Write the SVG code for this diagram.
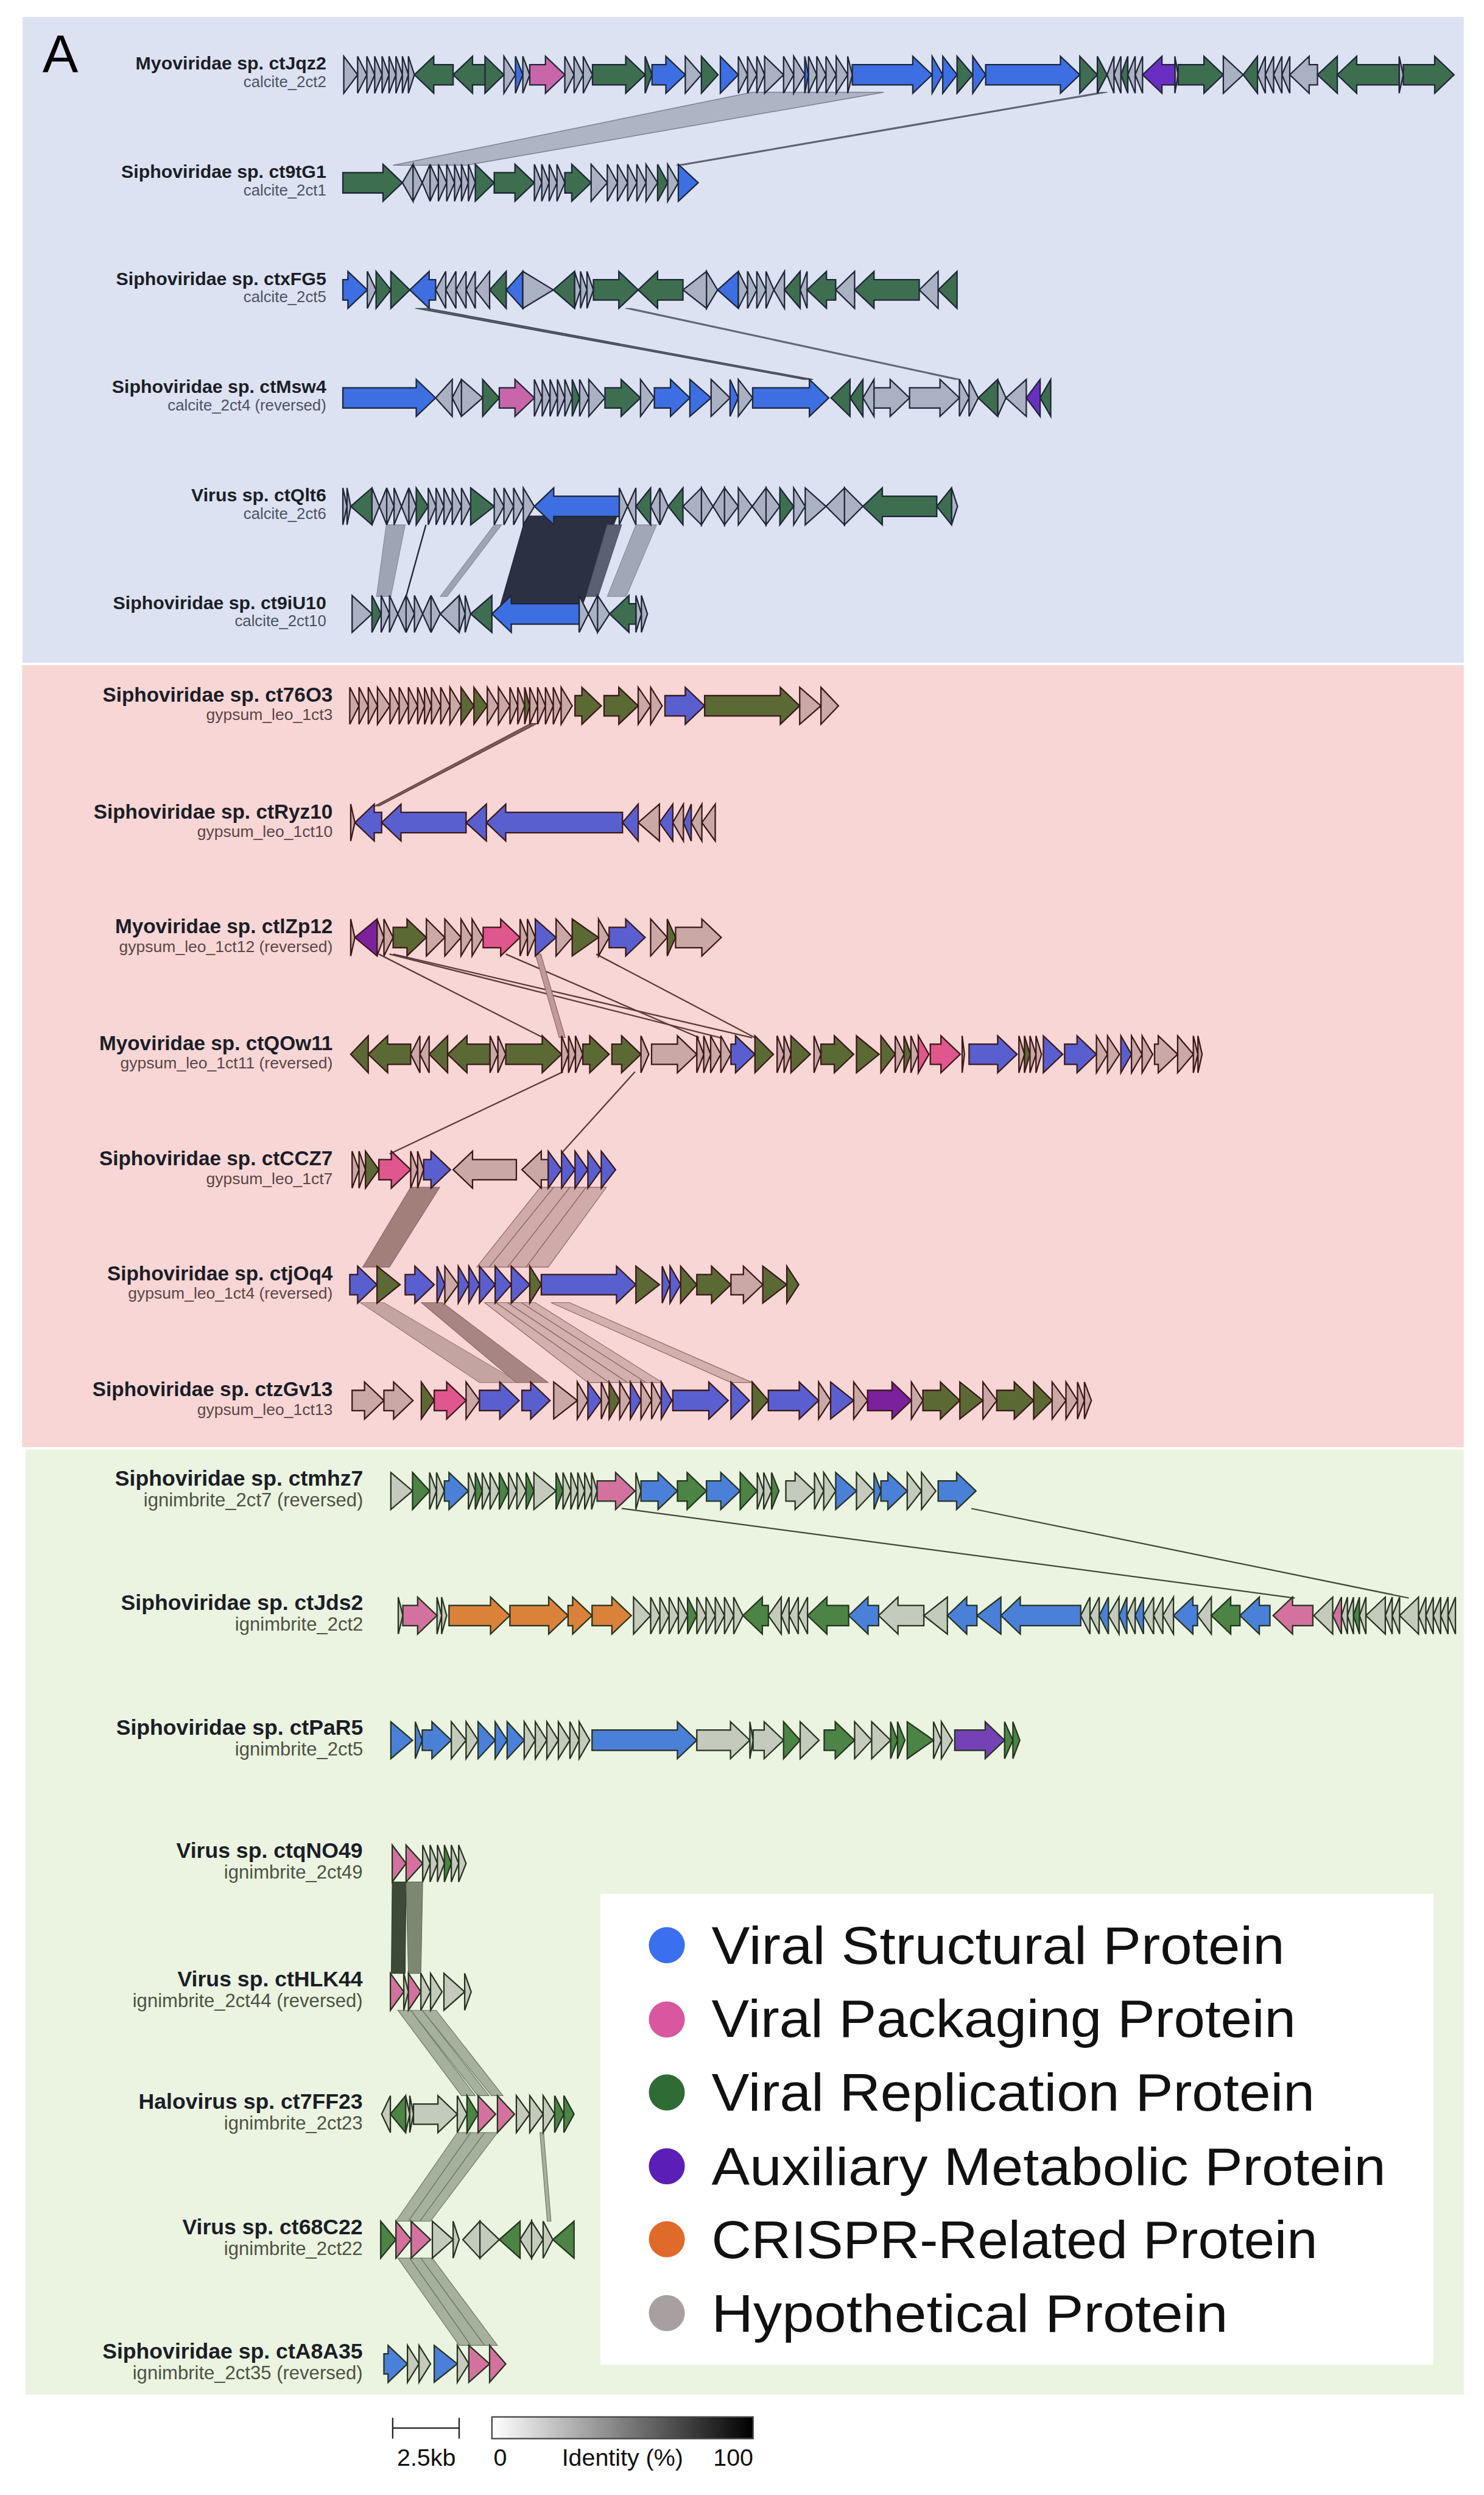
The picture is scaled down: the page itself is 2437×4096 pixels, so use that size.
<svg xmlns="http://www.w3.org/2000/svg" width="2437" height="4096" viewBox="0 0 2437 4096">
<defs>
<style>
.nm{font-family:"Liberation Sans",Arial,sans-serif;font-weight:bold;text-anchor:end;fill:#1b1e27}
.sb{font-family:"Liberation Sans",Arial,sans-serif;text-anchor:end}
.bn{font-size:40px}.bs{font-size:34px;fill:#4d5262}
.rn{font-size:44px}.rs{font-size:35px;fill:#5a4646}
.gn{font-size:47px}.gs{font-size:41px;fill:#4b5343}
path{stroke-width:3;stroke-linejoin:miter}
.bS{fill:#3d6fe2;stroke:#1f2638}.bP{fill:#c866a9;stroke:#1f2638}.bR{fill:#3e6e50;stroke:#1f2638}.bA{fill:#6b2ec2;stroke:#1f2638}.bH{fill:#aab1c2;stroke:#1f2638}
.rS{fill:#5a5fd0;stroke:#3b1818}.rP{fill:#df578d;stroke:#3b1818}.rR{fill:#5b6a35;stroke:#3b1818}.rA{fill:#7b219d;stroke:#3b1818}.rH{fill:#caa8a6;stroke:#3b1818}
.gS{fill:#4b80d9;stroke:#263320}.gP{fill:#d4729f;stroke:#263320}.gR{fill:#4b8444;stroke:#263320}.gA{fill:#7442b4;stroke:#263320}.gC{fill:#da823a;stroke:#263320}.gH{fill:#c4cbbd;stroke:#263320}
.lg{font-family:"Liberation Sans",Arial,sans-serif;font-size:114px;fill:#111}
.sc{font-family:"Liberation Sans",Arial,sans-serif;font-size:52px;fill:#111;text-anchor:middle}
</style>
<linearGradient id="idgrad" x1="0" y1="0" x2="1" y2="0">
<stop offset="0" stop-color="#ffffff"/>
<stop offset="1" stop-color="#000000"/>
</linearGradient>
</defs>
<rect x="0" y="0" width="2437" height="4096" fill="#ffffff"/>
<g transform="scale(0.7578)">
<g id="panels">
<rect x="49" y="37" width="3123" height="1399" fill="#dce2f1"/>
<rect x="48" y="1441" width="3124" height="1694" fill="#f8d6d5"/>
<rect x="55" y="3140" width="3117" height="2048" fill="#ebf4e1"/>
</g>
<text x="92" y="157" font-family="Liberation Sans,Arial,sans-serif" font-size="116" fill="#000">A</text>

<g id="connectors">
<polygon points="1630,200 1915,200 1010,358 852,358" fill="#a3a9b8" fill-opacity="0.8" stroke="#7b8192" stroke-width="2"/>
<polygon points="2385,200 2400,200 1480,358 1465,358" fill="#6b7080" stroke="#555a6a" stroke-width="1.5"/>
<polygon points="900,668 928,668 1762,822 1742,822" fill="#3f4454" fill-opacity="0.85" stroke="#3a3f4e" stroke-width="1.5"/>
<polygon points="1355,668 1368,668 2082,822 2070,822" fill="#6b7080" stroke="#5a5f6e" stroke-width="1.5"/>
<polygon points="837,1137 878,1137 847,1292 816,1292" fill="#9ea4b4" stroke="#868c9c" stroke-width="1.5"/>
<line x1="923" y1="1137" x2="880" y2="1292" stroke="#1f2433" stroke-width="3"/>
<polygon points="1071,1137 1087,1137 969,1292 954,1292" fill="#9ea4b4" stroke="#868c9c" stroke-width="1.5"/>
<polygon points="1140,1118 1337,1118 1262,1310 1085,1310" fill="#2b3142" stroke="#232838" stroke-width="2"/>
<polygon points="1316,1137 1347,1137 1296,1292 1270,1292" fill="#5b6172" stroke="#4b5162" stroke-width="1.5"/>
<polygon points="1378,1137 1423,1137 1357,1292 1316,1292" fill="#a1a7b6" stroke="#878d9c" stroke-width="1.5"/>

<polygon points="1150,1567 1165,1567 822,1746 812,1746" fill="#7a5a58" stroke="#5b3b3a" stroke-width="1.5"/>
<g stroke="#5b3b3a" stroke-width="3" fill="none">
<line x1="821" y1="2067" x2="1177" y2="2248"/>
<line x1="844" y1="2067" x2="1561" y2="2248"/>
<line x1="852" y1="2067" x2="1630" y2="2248"/>
<line x1="1096" y1="2067" x2="1515" y2="2248"/>
<line x1="1292" y1="2067" x2="1636" y2="2248"/>
<line x1="1220" y1="2322" x2="844" y2="2500"/>
<line x1="1376" y1="2322" x2="1217" y2="2498"/>
</g>
<polygon points="1160,2067 1172,2067 1225,2248 1212,2248" fill="#c09a98" stroke="#8a6563" stroke-width="1.5"/>
<polygon points="890,2572 953,2572 844,2745 786,2745" fill="#a37f7c" stroke="#8c6663" stroke-width="1.5"/>
<g fill="#b89290" fill-opacity="0.65" stroke="#8c6663" stroke-width="1.5">
<polygon points="1171,2572 1200,2572 1060,2745 1033,2745"/>
<polygon points="1200,2572 1235,2572 1100,2745 1060,2745"/>
<polygon points="1235,2572 1270,2572 1140,2745 1100,2745"/>
<polygon points="1270,2572 1314,2572 1188,2745 1140,2745"/>
</g>
<polygon points="781,2822 832,2822 1125,2995 1039,2995" fill="#c4a4a1" stroke="#9c7875" stroke-width="1.5"/>
<polygon points="913,2822 959,2822 1188,2995 1119,2995" fill="#a78582" stroke="#8c6663" stroke-width="1.5"/>
<g fill="#c0a09d" fill-opacity="0.7" stroke="#8c6663" stroke-width="1.5">
<polygon points="1050,2822 1075,2822 1320,2995 1274,2995"/>
<polygon points="1075,2822 1100,2822 1360,2995 1320,2995"/>
<polygon points="1100,2822 1130,2822 1400,2995 1360,2995"/>
<polygon points="1130,2822 1160,2822 1435,2995 1400,2995"/>
<polygon points="1194,2822 1234,2822 1630,2995 1584,2995"/>
</g>

<line x1="2105" y1="3268" x2="3053" y2="3462" stroke="#3f4a36" stroke-width="3"/>
<line x1="1347" y1="3268" x2="2806" y2="3462" stroke="#3f4a36" stroke-width="3"/>
<polygon points="850,4077 880,4077 878,4275 848,4275" fill="#3e4a38" stroke="#2f3a2a" stroke-width="1.5"/>
<polygon points="880,4077 916,4077 912,4275 885,4275" fill="#7c8872" stroke="#5f6b57" stroke-width="1.5"/>
<g fill="#8e9a85" fill-opacity="0.75" stroke="#6b7763" stroke-width="1.5">
<polygon points="862,4355 890,4355 1030,4540 1000,4540"/>
<polygon points="890,4355 915,4355 1060,4540 1035,4540"/>
<polygon points="915,4355 945,4355 1090,4540 1065,4540"/>
<polygon points="991,4620 1020,4620 885,4812 858,4812"/>
<polygon points="1020,4620 1050,4620 910,4812 885,4812"/>
<polygon points="1050,4620 1078,4620 933,4812 910,4812"/>
<polygon points="1170,4620 1178,4620 1194,4812 1186,4812"/>
<polygon points="862,4892 888,4892 1020,5081 995,5081"/>
<polygon points="888,4892 912,4892 1050,5081 1020,5081"/>
<polygon points="912,4892 937,4892 1078,5081 1050,5081"/>
</g>
</g>

<g id="ctJqz2" transform="translate(0,162)">
<text class="nm bn" x="707" y="-11">Myoviridae sp. ctJqz2</text>
<text class="sb bs" x="707" y="27">calcite_2ct2</text>
<path class="bH" d="M745 -40L775 0L745 40Z M775 -40L795 0L775 40Z M795 -40L812 0L795 40Z M812 -40L828 0L812 40Z M828 -40L843 0L828 40Z M843 -40L858 0L843 40Z M858 -40L872 0L858 40Z M872 -40L885 0L872 40Z M885 -40L898 0L885 40Z M1092 -40L1117 0L1092 40Z M1133 -40L1148 0L1133 40Z M1224 -40L1244 0L1224 40Z M1244 -40L1264 0L1244 40Z M1264 -40L1284 0L1264 40Z M1485 -40L1520 0L1485 40Z M1600 -40L1620 0L1600 40Z M1620 -40L1640 0L1620 40Z M1640 -40L1657 0L1640 40Z M1657 -40L1698 0L1657 40Z M1698 -40L1720 0L1698 40Z M1720 -40L1744 0L1720 40Z M1752 -40L1770 0L1752 40Z M1770 -40L1790 0L1770 40Z M1790 -40L1812 0L1790 40Z M1812 -40L1837 0L1812 40Z M1837 -40L1847 0L1837 40Z M2414 -40L2399 0L2414 40Z M2429 -40L2414 0L2429 40Z M2460 -40L2444 0L2460 40Z M2476 -40L2460 0L2476 40Z M2546 -40L2553 0L2546 40Z M2651 -40L2694 0L2651 40Z M2742 -40L2725 0L2742 40Z M2760 -40L2742 0L2760 40Z M2778 -40L2760 0L2778 40Z M2795 -40L2778 0L2795 40Z M2855 -22H2837V-40L2795 0L2837 40V22H2855Z M3032 -40L3041 0L3032 40Z"/>
<path class="bR" d="M982 -22H940V-40L898 0L940 40V22H982Z M1051 -22H1024V-40L982 0L1024 40V22H1051Z M1051 -40L1092 0L1051 40Z M1284 -22H1356V-40L1398 0L1356 40V22H1284Z M1398 -40L1413 0L1398 40Z M1520 -40L1556 0L1520 40Z M2074 -40L2108 0L2074 40Z M2340 -40L2378 0L2340 40Z M2378 -40L2399 0L2378 40Z M2444 -40L2429 0L2444 40Z M2553 -22H2609V-40L2651 0L2609 40V22H2553Z M2725 -40L2694 0L2725 40Z M2898 -40L2855 0L2898 40Z M3032 -22H2940V-40L2898 0L2940 40V22H3032Z M3041 -22H3109V-40L3151 0L3109 40V22H3041Z"/>
<path class="bS" d="M1117 -40L1133 0L1117 40Z M1413 -22H1443V-40L1485 0L1443 40V22H1413Z M1561 -40L1600 0L1561 40Z M1744 -40L1752 0L1744 40Z M1847 -22H1978V-40L2020 0L1978 40V22H1847Z M2020 -40L2043 0L2020 40Z M2043 -40L2074 0L2043 40Z M2108 -40L2136 0L2108 40Z M2136 -22H2298V-40L2340 0L2298 40V22H2136Z"/>
<path class="bP" d="M1148 -22H1182V-40L1224 0L1182 40V22H1148Z"/>
<path class="bA" d="M2546 -22H2518V-40L2476 0L2518 40V22H2546Z"/>
</g>

<g id="ct9tG1" transform="translate(0,396)">
<text class="nm bn" x="707" y="-11">Siphoviridae sp. ct9tG1</text>
<text class="sb bs" x="707" y="27">calcite_2ct1</text>
<path class="bR" d="M743 -22H830V-40L872 0L830 40V22H743Z M1030 -40L1071 0L1030 40Z M1071 -22H1116V-40L1158 0L1116 40V22H1071Z M1224 -22H1239V-40L1281 0L1239 40V22H1224Z M1425 -40L1447 0L1425 40Z"/>
<path class="bH" d="M895 -40L872 0L895 40Z M895 -40L915 0L895 40Z M932 -40L915 0L932 40Z M932 -40L950 0L932 40Z M950 -40L968 0L950 40Z M968 -40L985 0L968 40Z M985 -40L1000 0L985 40Z M1000 -40L1015 0L1000 40Z M1015 -40L1030 0L1015 40Z M1158 -40L1174 0L1158 40Z M1174 -40L1190 0L1174 40Z M1190 -40L1207 0L1190 40Z M1207 -40L1224 0L1207 40Z M1281 -40L1316 0L1281 40Z M1316 -40L1338 0L1316 40Z M1338 -40L1360 0L1338 40Z M1360 -40L1380 0L1360 40Z M1380 -40L1400 0L1380 40Z M1400 -40L1425 0L1400 40Z M1447 -40L1470 0L1447 40Z"/>
<path class="bS" d="M1470 -40L1513 0L1470 40Z"/>
</g>

<g id="ctxFG5" transform="translate(0,628)">
<text class="nm bn" x="707" y="-11">Siphoviridae sp. ctxFG5</text>
<text class="sb bs" x="707" y="27">calcite_2ct5</text>
<path class="bS" d="M743 -22H754V-40L796 0L754 40V22H743Z M944 -22H930V-40L888 0L930 40V22H944Z M1133 -40L1097 0L1133 40Z M1600 -40L1555 0L1600 40Z"/>
<path class="bH" d="M796 -40L815 0L796 40Z M966 -40L944 0L966 40Z M988 -40L966 0L988 40Z M1010 -40L988 0L1010 40Z M1030 -40L1010 0L1030 40Z M1061 -40L1030 0L1061 40Z M1133 -40L1199 0L1133 40Z M1245 -40L1258 0L1245 40Z M1258 -40L1272 0L1258 40Z M1272 -40L1286 0L1272 40Z M1531 -40L1480 0L1531 40Z M1531 -40L1555 0L1531 40Z M1600 -40L1620 0L1600 40Z M1620 -40L1640 0L1620 40Z M1640 -40L1660 0L1640 40Z M1660 -40L1677 0L1660 40Z M1700 -40L1677 0L1700 40Z M1749 -40L1734 0L1749 40Z M1852 -40L1811 0L1852 40Z M2033 -40L1992 0L2033 40Z"/>
<path class="bR" d="M815 -40L847 0L815 40Z M847 -40L888 0L847 40Z M1097 -40L1061 0L1097 40Z M1245 -40L1199 0L1245 40Z M1286 -22H1341V-40L1383 0L1341 40V22H1286Z M1480 -22H1425V-40L1383 0L1425 40V22H1480Z M1734 -40L1700 0L1734 40Z M1811 -22H1791V-40L1749 0L1791 40V22H1811Z M1992 -22H1894V-40L1852 0L1894 40V22H1992Z M2074 -40L2033 0L2074 40Z"/>
</g>

<g id="ctMsw4" transform="translate(0,862)">
<text class="nm bn" x="707" y="-11">Siphoviridae sp. ctMsw4</text>
<text class="sb bs" x="707" y="27">calcite_2ct4 (reversed)</text>
<path class="bS" d="M743 -22H902V-40L944 0L902 40V22H743Z M1418 -22H1453V-40L1495 0L1453 40V22H1418Z M1495 -40L1541 0L1495 40Z M1582 -40L1600 0L1582 40Z M1631 -22H1754V-40L1796 0L1754 40V22H1631Z"/>
<path class="bH" d="M980 -40L944 0L980 40Z M1000 -40L980 0L1000 40Z M1000 -40L1046 0L1000 40Z M1158 -40L1175 0L1158 40Z M1175 -40L1192 0L1175 40Z M1192 -40L1208 0L1192 40Z M1208 -40L1224 0L1208 40Z M1224 -40L1240 0L1224 40Z M1256 -40L1276 0L1256 40Z M1276 -40L1311 0L1276 40Z M1388 -40L1418 0L1388 40Z M1541 -40L1582 0L1541 40Z M1600 -40L1631 0L1600 40Z M1894 -40L1870 0L1894 40Z M1894 -22H1929V-40L1971 0L1929 40V22H1894Z M1971 -22H2037V-40L2079 0L2037 40V22H1971Z M2079 -40L2100 0L2079 40Z M2100 -40L2120 0L2100 40Z M2162 -40L2180 0L2162 40Z M2224 -40L2180 0L2224 40Z"/>
<path class="bR" d="M1046 -40L1082 0L1046 40Z M1240 -40L1256 0L1240 40Z M1311 -22H1346V-40L1388 0L1346 40V22H1311Z M1842 -40L1801 0L1842 40Z M1870 -40L1842 0L1870 40Z M2162 -40L2120 0L2162 40Z M2277 -40L2254 0L2277 40Z"/>
<path class="bP" d="M1082 -22H1116V-40L1158 0L1116 40V22H1082Z"/>
<path class="bA" d="M2254 -40L2224 0L2254 40Z"/>
</g>

<g id="ctQlt6" transform="translate(0,1097)">
<text class="nm bn" x="707" y="-11">Virus sp. ctQlt6</text>
<text class="sb bs" x="707" y="27">calcite_2ct6</text>
<path class="bH" d="M743 -40L752 0L743 40Z M752 -40L760 0L752 40Z M806 -40L822 0L806 40Z M838 -40L822 0L838 40Z M838 -40L854 0L838 40Z M854 -40L870 0L854 40Z M886 -40L870 0L886 40Z M886 -40L902 0L886 40Z M928 -40L945 0L928 40Z M945 -40L962 0L945 40Z M962 -40L980 0L962 40Z M980 -40L1000 0L980 40Z M1000 -40L1020 0L1000 40Z M1071 -40L1092 0L1071 40Z M1092 -40L1113 0L1092 40Z M1113 -40L1134 0L1113 40Z M1134 -40L1158 0L1134 40Z M1342 -40L1360 0L1342 40Z M1378 -40L1360 0L1378 40Z M1430 -40L1410 0L1430 40Z M1430 -40L1448 0L1430 40Z M1520 -40L1480 0L1520 40Z M1520 -40L1545 0L1520 40Z M1570 -40L1545 0L1570 40Z M1570 -40L1600 0L1570 40Z M1600 -40L1630 0L1600 40Z M1660 -40L1630 0L1660 40Z M1660 -40L1690 0L1660 40Z M1720 -40L1745 0L1720 40Z M1745 -40L1790 0L1745 40Z M1830 -40L1790 0L1830 40Z M1830 -40L1870 0L1830 40Z M2062 -40L2075 0L2062 40Z"/>
<path class="bR" d="M806 -40L760 0L806 40Z M902 -40L928 0L902 40Z M1020 -40L1071 0L1020 40Z M1410 -40L1378 0L1410 40Z M1480 -40L1448 0L1480 40Z M1690 -40L1720 0L1690 40Z M2030 -22H1912V-40L1870 0L1912 40V22H2030Z M2062 -40L2030 0L2062 40Z"/>
<path class="bS" d="M1342 -22H1200V-40L1158 0L1200 40V22H1342Z"/>
</g>

<g id="ct9iU10" transform="translate(0,1330)">
<text class="nm bn" x="707" y="-11">Siphoviridae sp. ct9iU10</text>
<text class="sb bs" x="707" y="27">calcite_2ct10</text>
<path class="bH" d="M763 -40L806 0L763 40Z M826 -40L844 0L826 40Z M844 -40L862 0L844 40Z M880 -40L862 0L880 40Z M880 -40L898 0L880 40Z M898 -40L916 0L898 40Z M934 -40L916 0L934 40Z M934 -40L954 0L934 40Z M995 -40L954 0L995 40Z M995 -40L1008 0L995 40Z M1008 -40L1020 0L1008 40Z M1255 -40L1275 0L1255 40Z M1295 -40L1275 0L1295 40Z M1295 -40L1321 0L1295 40Z M1378 -40L1390 0L1378 40Z M1390 -40L1403 0L1390 40Z"/>
<path class="bR" d="M806 -40L826 0L806 40Z M1066 -40L1020 0L1066 40Z M1378 -22H1363V-40L1321 0L1363 40V22H1378Z"/>
<path class="bS" d="M1255 -22H1108V-40L1066 0L1108 40V22H1255Z"/>
</g>

<g id="ct76O3" transform="translate(0,1529)">
<text class="nm rn" x="721" y="-9">Siphoviridae sp. ct76O3</text>
<text class="sb rs" x="721" y="31">gypsum_leo_1ct3</text>
<path class="rH" d="M758 -40L778 0L758 40Z M778 -40L798 0L778 40Z M798 -40L818 0L798 40Z M818 -40L845 0L818 40Z M845 -40L865 0L845 40Z M865 -40L885 0L865 40Z M885 -40L905 0L885 40Z M905 -40L920 0L905 40Z M920 -40L935 0L920 40Z M935 -40L955 0L935 40Z M955 -40L975 0L955 40Z M975 -40L999 0L975 40Z M1056 -40L1080 0L1056 40Z M1080 -40L1105 0L1080 40Z M1105 -40L1122 0L1105 40Z M1122 -40L1137 0L1122 40Z M1148 -40L1165 0L1148 40Z M1165 -40L1182 0L1165 40Z M1182 -40L1199 0L1182 40Z M1199 -40L1216 0L1199 40Z M1216 -40L1240 0L1216 40Z M1383 -40L1410 0L1383 40Z M1410 -40L1435 0L1410 40Z M1733 -40L1779 0L1733 40Z M1779 -40L1817 0L1779 40Z"/>
<path class="rR" d="M999 -40L1027 0L999 40Z M1027 -40L1056 0L1027 40Z M1137 -40L1148 0L1137 40Z M1246 -22H1261V-40L1303 0L1261 40V22H1246Z M1309 -22H1341V-40L1383 0L1341 40V22H1309Z M1527 -22H1691V-40L1733 0L1691 40V22H1527Z"/>
<path class="rS" d="M1441 -22H1485V-40L1527 0L1485 40V22H1441Z"/>
</g>

<g id="ctRyz10" transform="translate(0,1782)">
<text class="nm rn" x="721" y="-9">Siphoviridae sp. ctRyz10</text>
<text class="sb rs" x="721" y="31">gypsum_leo_1ct10</text>
<path class="rH" d="M760 -40L769 0L760 40Z M1429 -40L1383 0L1429 40Z M1481 -40L1458 0L1481 40Z M1521 -40L1498 0L1521 40Z M1550 -40L1521 0L1550 40Z"/>
<path class="rS" d="M827 -22H811V-40L769 0L811 40V22H827Z M1010 -22H869V-40L827 0L869 40V22H1010Z M1054 -40L1010 0L1054 40Z M1349 -22H1096V-40L1054 0L1096 40V22H1349Z M1383 -40L1349 0L1383 40Z M1458 -40L1429 0L1458 40Z M1498 -40L1481 0L1498 40Z"/>
</g>

<g id="ctlZp12" transform="translate(0,2031)">
<text class="nm rn" x="721" y="-9">Myoviridae sp. ctlZp12</text>
<text class="sb rs" x="721" y="31">gypsum_leo_1ct12 (reversed)</text>
<path class="rH" d="M760 -40L769 0L760 40Z M817 -40L832 0L817 40Z M832 -40L852 0L832 40Z M924 -40L964 0L924 40Z M964 -40L999 0L964 40Z M999 -40L1023 0L999 40Z M1023 -40L1047 0L1023 40Z M1127 -40L1143 0L1127 40Z M1143 -40L1160 0L1143 40Z M1205 -40L1240 0L1205 40Z M1297 -40L1320 0L1297 40Z M1410 -40L1446 0L1410 40Z M1464 -22H1521V-40L1563 0L1521 40V22H1464Z"/>
<path class="rA" d="M817 -40L769 0L817 40Z"/>
<path class="rR" d="M852 -22H882V-40L924 0L882 40V22H852Z M1240 -40L1297 0L1240 40Z M1446 -40L1464 0L1446 40Z"/>
<path class="rP" d="M1047 -22H1085V-40L1127 0L1085 40V22H1047Z"/>
<path class="rS" d="M1160 -40L1205 0L1160 40Z M1320 -22H1356V-40L1398 0L1356 40V22H1320Z"/>
</g>

<g id="ctQOw11" transform="translate(0,2284)">
<text class="nm rn" x="721" y="-9">Myoviridae sp. ctQOw11</text>
<text class="sb rs" x="721" y="31">gypsum_leo_1ct11 (reversed)</text>
<path class="rR" d="M798 -40L760 0L798 40Z M890 -22H840V-40L798 0L840 40V22H890Z M970 -40L930 0L970 40Z M1062 -22H1012V-40L970 0L1012 40V22H1062Z M1096 -22H1175V-40L1217 0L1175 40V22H1096Z M1263 -22H1278V-40L1320 0L1278 40V22H1263Z M1326 -22H1347V-40L1389 0L1347 40V22H1326Z M1636 -40L1676 0L1636 40Z M1714 -40L1756 0L1714 40Z M1779 -22H1808V-40L1850 0L1808 40V22H1779Z M1856 -40L1905 0L1856 40Z M1909 -40L1940 0L1909 40Z M1959 -40L1974 0L1959 40Z M2220 -40L2232 0L2220 40Z"/>
<path class="rH" d="M910 -40L890 0L910 40Z M930 -40L910 0L930 40Z M1062 -40L1079 0L1062 40Z M1079 -40L1096 0L1079 40Z M1217 -40L1232 0L1217 40Z M1232 -40L1247 0L1232 40Z M1247 -40L1263 0L1247 40Z M1389 -40L1406 0L1389 40Z M1412 -22H1468V-40L1510 0L1468 40V22H1412Z M1510 -40L1525 0L1510 40Z M1525 -40L1540 0L1525 40Z M1540 -40L1562 0L1540 40Z M1562 -40L1584 0L1562 40Z M1684 -40L1699 0L1684 40Z M1699 -40L1714 0L1699 40Z M1764 -40L1779 0L1764 40Z M1940 -40L1959 0L1940 40Z M1974 -40L1990 0L1974 40Z M2085 -40L2090 0L2085 40Z M2208 -40L2220 0L2208 40Z M2232 -40L2245 0L2232 40Z M2245 -40L2257 0L2245 40Z M2376 -40L2400 0L2376 40Z M2400 -40L2426 0L2400 40Z M2452 -40L2475 0L2452 40Z M2475 -40L2498 0L2475 40Z M2502 -22H2510V-40L2552 0L2510 40V22H2502Z M2552 -40L2586 0L2552 40Z M2586 -40L2596 0L2586 40Z M2596 -40L2605 0L2596 40Z"/>
<path class="rS" d="M1584 -22H1594V-40L1636 0L1594 40V22H1584Z M2100 -22H2162V-40L2204 0L2162 40V22H2100Z M2261 -40L2303 0L2261 40Z M2307 -22H2334V-40L2376 0L2334 40V22H2307Z M2429 -40L2452 0L2429 40Z"/>
<path class="rP" d="M1990 -40L2013 0L1990 40Z M2016 -22H2039V-40L2081 0L2039 40V22H2016Z"/>
</g>

<g id="ctCCZ7" transform="translate(0,2534)">
<text class="nm rn" x="721" y="-9">Siphoviridae sp. ctCCZ7</text>
<text class="sb rs" x="721" y="31">gypsum_leo_1ct7</text>
<path class="rH" d="M763 -40L778 0L763 40Z M778 -40L792 0L778 40Z M890 -40L905 0L890 40Z M905 -40L918 0L905 40Z M1119 -22H1024V-40L982 0L1024 40V22H1119Z M1188 -22H1173V-40L1131 0L1173 40V22H1188Z"/>
<path class="rR" d="M792 -40L821 0L792 40Z"/>
<path class="rP" d="M821 -22H848V-40L890 0L848 40V22H821Z"/>
<path class="rS" d="M918 -22H934V-40L976 0L934 40V22H918Z M1188 -40L1217 0L1188 40Z M1217 -40L1246 0L1217 40Z M1246 -40L1274 0L1246 40Z M1274 -40L1303 0L1274 40Z M1303 -40L1334 0L1303 40Z"/>
</g>

<g id="ctjOq4" transform="translate(0,2783)">
<text class="nm rn" x="721" y="-9">Siphoviridae sp. ctjOq4</text>
<text class="sb rs" x="721" y="31">gypsum_leo_1ct4 (reversed)</text>
<path class="rS" d="M758 -22H775V-40L817 0L775 40V22H758Z M878 -22H899V-40L941 0L899 40V22H878Z M947 -40L964 0L947 40Z M993 -40L1016 0L993 40Z M1016 -40L1039 0L1016 40Z M1039 -40L1073 0L1039 40Z M1073 -40L1108 0L1073 40Z M1108 -40L1148 0L1108 40Z M1173 -22H1336V-40L1378 0L1336 40V22H1173Z M1435 -40L1452 0L1435 40Z M1452 -40L1475 0L1452 40Z"/>
<path class="rR" d="M817 -40L867 0L817 40Z M1148 -40L1173 0L1148 40Z M1378 -40L1429 0L1378 40Z M1475 -40L1510 0L1475 40Z M1510 -22H1542V-40L1584 0L1542 40V22H1510Z M1653 -40L1705 0L1653 40Z M1705 -40L1731 0L1705 40Z"/>
<path class="rH" d="M964 -40L993 0L964 40Z M1584 -22H1611V-40L1653 0L1611 40V22H1584Z"/>
</g>

<g id="ctzGv13" transform="translate(0,3034)">
<text class="nm rn" x="721" y="-9">Siphoviridae sp. ctzGv13</text>
<text class="sb rs" x="721" y="31">gypsum_leo_1ct13</text>
<path class="rH" d="M763 -22H790V-40L832 0L790 40V22H763Z M832 -22H853V-40L895 0L853 40V22H832Z M1010 -40L1039 0L1010 40Z M1200 -40L1251 0L1200 40Z M1251 -40L1274 0L1251 40Z M1303 -40L1320 0L1303 40Z M1343 -40L1366 0L1343 40Z M1389 -40L1412 0L1389 40Z M1412 -40L1433 0L1412 40Z M1774 -40L1800 0L1774 40Z M1850 -40L1880 0L1850 40Z M1975 -40L2000 0L1975 40Z M2130 -40L2160 0L2130 40Z M2280 -40L2310 0L2280 40Z M2310 -40L2335 0L2310 40Z M2335 -40L2350 0L2335 40Z M2350 -40L2365 0L2350 40Z"/>
<path class="rR" d="M913 -40L941 0L913 40Z M1320 -40L1343 0L1320 40Z M1630 -40L1665 0L1630 40Z M2000 -22H2038V-40L2080 0L2038 40V22H2000Z M2080 -40L2130 0L2080 40Z M2160 -22H2198V-40L2240 0L2198 40V22H2160Z M2240 -40L2280 0L2240 40Z"/>
<path class="rP" d="M941 -22H968V-40L1010 0L968 40V22H941Z"/>
<path class="rS" d="M1039 -22H1083V-40L1125 0L1083 40V22H1039Z M1131 -22H1150V-40L1192 0L1150 40V22H1131Z M1274 -40L1303 0L1274 40Z M1366 -40L1389 0L1366 40Z M1433 -40L1456 0L1433 40Z M1458 -22H1536V-40L1578 0L1536 40V22H1458Z M1584 -40L1624 0L1584 40Z M1665 -22H1732V-40L1774 0L1732 40V22H1665Z M1800 -40L1850 0L1800 40Z"/>
<path class="rA" d="M1880 -22H1933V-40L1975 0L1933 40V22H1880Z"/>
</g>

<g id="ctmhz7" transform="translate(0,3230)">
<text class="nm gn" x="787" y="-12">Siphoviridae sp. ctmhz7</text>
<text class="sb gs" x="787" y="33">ignimbrite_2ct7 (reversed)</text>
<path class="gH" d="M847 -40L894 0L847 40Z M931 -40L946 0L931 40Z M946 -40L963 0L946 40Z M1015 -40L1030 0L1015 40Z M1045 -40L1062 0L1045 40Z M1062 -40L1082 0L1062 40Z M1102 -40L1120 0L1102 40Z M1120 -40L1140 0L1120 40Z M1157 -40L1205 0L1157 40Z M1220 -40L1237 0L1220 40Z M1237 -40L1252 0L1237 40Z M1252 -40L1267 0L1252 40Z M1267 -40L1282 0L1267 40Z M1282 -40L1294 0L1282 40Z M1378 -40L1389 0L1378 40Z M1641 -40L1655 0L1641 40Z M1655 -40L1672 0L1655 40Z M1703 -22H1723V-40L1765 0L1723 40V22H1703Z M1765 -40L1785 0L1765 40Z M1785 -40L1811 0L1785 40Z M1856 -40L1894 0L1856 40Z M1966 -40L1997 0L1966 40Z M1997 -40L2028 0L1997 40Z"/>
<path class="gR" d="M894 -40L931 0L894 40Z M1030 -40L1045 0L1030 40Z M1082 -40L1102 0L1082 40Z M1140 -40L1157 0L1140 40Z M1205 -40L1220 0L1205 40Z M1468 -22H1489V-40L1531 0L1489 40V22H1468Z M1604 -40L1641 0L1604 40Z M1672 -40L1688 0L1672 40Z"/>
<path class="gS" d="M963 -22H973V-40L1015 0L973 40V22H963Z M1389 -22H1426V-40L1468 0L1426 40V22H1389Z M1531 -22H1562V-40L1604 0L1562 40V22H1531Z M1811 -40L1856 0L1811 40Z M1894 -40L1909 0L1894 40Z M1909 -22H1924V-40L1966 0L1924 40V22H1909Z M2033 -22H2073V-40L2115 0L2073 40V22H2033Z"/>
<path class="gP" d="M1294 -22H1334V-40L1376 0L1334 40V22H1294Z"/>
</g>

<g id="ctJds2" transform="translate(0,3500)">
<text class="nm gn" x="787" y="-12">Siphoviridae sp. ctJds2</text>
<text class="sb gs" x="787" y="33">ignimbrite_2ct2</text>
<path class="gH" d="M863 -40L873 0L863 40Z M947 -40L957 0L947 40Z M957 -40L968 0L957 40Z M1373 -40L1410 0L1373 40Z M1410 -40L1430 0L1410 40Z M1430 -40L1450 0L1430 40Z M1450 -40L1470 0L1450 40Z M1470 -40L1490 0L1470 40Z M1510 -40L1530 0L1510 40Z M1530 -40L1550 0L1530 40Z M1550 -40L1570 0L1550 40Z M1570 -40L1590 0L1570 40Z M1590 -40L1610 0L1590 40Z M1693 -40L1665 0L1693 40Z M1710 -40L1693 0L1710 40Z M1730 -40L1710 0L1730 40Z M1750 -40L1730 0L1750 40Z M2002 -22H1946V-40L1904 0L1946 40V22H2002Z M2053 -40L2002 0L2053 40Z M2362 -40L2342 0L2362 40Z M2382 -40L2362 0L2382 40Z M2425 -40L2402 0L2425 40Z M2460 -40L2442 0L2460 40Z M2500 -40L2478 0L2500 40Z M2520 -40L2500 0L2520 40Z M2543 -40L2520 0L2543 40Z M2625 -40L2595 0L2625 40Z M2888 -40L2847 0L2888 40Z M2920 -40L2907 0L2920 40Z M2933 -40L2920 0L2933 40Z M2960 -40L2946 0L2960 40Z M3002 -40L2960 0L3002 40Z M3017 -40L3002 0L3017 40Z M3033 -40L3017 0L3033 40Z M3074 -40L3033 0L3074 40Z M3090 -40L3074 0L3090 40Z M3106 -40L3090 0L3106 40Z M3122 -40L3106 0L3122 40Z M3138 -40L3122 0L3138 40Z M3154 -40L3138 0L3154 40Z"/>
<path class="gP" d="M873 -22H905V-40L947 0L905 40V22H873Z M2845 -22H2801V-40L2759 0L2801 40V22H2845Z M2907 -40L2888 0L2907 40Z"/>
<path class="gC" d="M973 -22H1063V-40L1105 0L1063 40V22H973Z M1105 -22H1189V-40L1231 0L1189 40V22H1105Z M1231 -22H1241V-40L1283 0L1241 40V22H1231Z M1283 -22H1326V-40L1368 0L1326 40V22H1283Z"/>
<path class="gR" d="M1490 -40L1510 0L1490 40Z M1665 -22H1652V-40L1610 0L1652 40V22H1665Z M1839 -22H1792V-40L1750 0L1792 40V22H1839Z M2687 -22H2667V-40L2625 0L2667 40V22H2687Z M2946 -40L2933 0L2946 40Z"/>
<path class="gS" d="M1904 -22H1881V-40L1839 0L1881 40V22H1904Z M2117 -22H2095V-40L2053 0L2095 40V22H2117Z M2169 -40L2117 0L2169 40Z M2342 -22H2211V-40L2169 0L2211 40V22H2342Z M2402 -40L2382 0L2402 40Z M2442 -40L2425 0L2442 40Z M2478 -40L2460 0L2478 40Z M2595 -22H2585V-40L2543 0L2585 40V22H2595Z M2752 -22H2729V-40L2687 0L2729 40V22H2752Z"/>
</g>

<g id="ctPaR5" transform="translate(0,3770)">
<text class="nm gn" x="787" y="-12">Siphoviridae sp. ctPaR5</text>
<text class="sb gs" x="787" y="33">ignimbrite_2ct5</text>
<path class="gS" d="M847 -40L894 0L847 40Z M900 -40L915 0L900 40Z M915 -22H936V-40L978 0L936 40V22H915Z M1036 -40L1073 0L1036 40Z M1073 -40L1099 0L1073 40Z M1099 -40L1136 0L1099 40Z M1283 -22H1468V-40L1510 0L1468 40V22H1283Z"/>
<path class="gH" d="M978 -40L1010 0L978 40Z M1010 -40L1036 0L1010 40Z M1136 -40L1160 0L1136 40Z M1160 -40L1185 0L1160 40Z M1185 -40L1210 0L1185 40Z M1210 -40L1235 0L1210 40Z M1235 -40L1255 0L1235 40Z M1255 -40L1278 0L1255 40Z M1510 -22H1583V-40L1625 0L1583 40V22H1510Z M1625 -40L1632 0L1625 40Z M1632 -22H1656V-40L1698 0L1656 40V22H1632Z M1734 -40L1775 0L1734 40Z M1852 -40L1889 0L1852 40Z M1889 -40L1930 0L1889 40Z M2023 -40L2040 0L2023 40Z M2040 -40L2064 0L2040 40Z"/>
<path class="gR" d="M1698 -40L1734 0L1698 40Z M1786 -22H1810V-40L1852 0L1810 40V22H1786Z M1930 -40L1945 0L1930 40Z M1945 -40L1961 0L1945 40Z M1966 -40L2023 0L1966 40Z M2177 -40L2195 0L2177 40Z M2195 -40L2210 0L2195 40Z"/>
<path class="gA" d="M2069 -22H2135V-40L2177 0L2135 40V22H2069Z"/>
</g>

<g id="ctqNO49" transform="translate(0,4037)">
<text class="nm gn" x="786" y="-12">Virus sp. ctqNO49</text>
<text class="sb gs" x="786" y="33">ignimbrite_2ct49</text>
<path class="gP" d="M850 -40L880 0L850 40Z M880 -40L916 0L880 40Z"/>
<path class="gH" d="M916 -40L932 0L916 40Z M932 -40L948 0L932 40Z M948 -40L963 0L948 40Z M978 -40L994 0L978 40Z M994 -40L1010 0L994 40Z"/>
<path class="gR" d="M963 -40L978 0L963 40Z"/>
</g>

<g id="ctHLK44" transform="translate(0,4315)">
<text class="nm gn" x="786" y="-12">Virus sp. ctHLK44</text>
<text class="sb gs" x="786" y="33">ignimbrite_2ct44 (reversed)</text>
<path class="gP" d="M846 -40L875 0L846 40Z M885 -40L912 0L885 40Z"/>
<path class="gH" d="M875 -40L885 0L875 40Z M912 -40L933 0L912 40Z M933 -40L958 0L933 40Z M962 -40L1007 0L962 40Z M1007 -40L1021 0L1007 40Z"/>
</g>

<g id="ct7FF23" transform="translate(0,4580)">
<text class="nm gn" x="786" y="-12">Halovirus sp. ct7FF23</text>
<text class="sb gs" x="786" y="33">ignimbrite_2ct23</text>
<path class="gH" d="M846 -40L827 0L846 40Z M879 -40L888 0L879 40Z M888 -40L896 0L888 40Z M896 -22H949V-40L991 0L949 40V22H896Z M991 -40L1012 0L991 40Z M1119 -40L1148 0L1119 40Z M1148 -40L1177 0L1148 40Z M1177 -40L1202 0L1177 40Z"/>
<path class="gR" d="M879 -40L846 0L879 40Z M1012 -40L1036 0L1012 40Z M1202 -40L1222 0L1202 40Z M1222 -40L1244 0L1222 40Z"/>
<path class="gP" d="M1036 -40L1074 0L1036 40Z M1078 -40L1115 0L1078 40Z"/>
</g>

<g id="ct68C22" transform="translate(0,4852)">
<text class="nm gn" x="786" y="-12">Virus sp. ct68C22</text>
<text class="sb gs" x="786" y="33">ignimbrite_2ct22</text>
<path class="gR" d="M825 -40L858 0L825 40Z M1127 -40L1082 0L1127 40Z M1244 -40L1198 0L1244 40Z"/>
<path class="gP" d="M858 -40L891 0L858 40Z M891 -40L933 0L891 40Z"/>
<path class="gH" d="M937 -40L982 0L937 40Z M982 -40L995 0L982 40Z M1040 -40L1003 0L1040 40Z M1040 -40L1082 0L1040 40Z M1152 -40L1127 0L1152 40Z M1152 -40L1177 0L1152 40Z M1177 -40L1198 0L1177 40Z"/>
</g>

<g id="ctA8A35" transform="translate(0,5121)">
<text class="nm gn" x="786" y="-12">Siphoviridae sp. ctA8A35</text>
<text class="sb gs" x="786" y="33">ignimbrite_2ct35 (reversed)</text>
<path class="gS" d="M832 -22H841V-40L883 0L841 40V22H832Z M941 -40L991 0L941 40Z"/>
<path class="gH" d="M883 -40L908 0L883 40Z M908 -40L933 0L908 40Z M991 -40L1016 0L991 40Z"/>
<path class="gP" d="M1016 -40L1061 0L1016 40Z M1061 -40L1096 0L1061 40Z"/>
</g>

<g id="legend">
<rect x="1301" y="4103" width="1805" height="1020" fill="#ffffff"/>
<circle cx="1445" cy="4214" r="39" fill="#3a6ff0"/>
<circle cx="1445" cy="4375" r="39" fill="#d9579f"/>
<circle cx="1445" cy="4533" r="39" fill="#2f6b35"/>
<circle cx="1445" cy="4693" r="39" fill="#5b1fb8"/>
<circle cx="1445" cy="4851" r="39" fill="#e06a2a"/>
<circle cx="1445" cy="5011" r="39" fill="#a8a0a0"/>
<text class="lg" x="1542" y="4255" textLength="1242" lengthAdjust="spacingAndGlyphs">Viral Structural Protein</text>
<text class="lg" x="1542" y="4413" textLength="1266" lengthAdjust="spacingAndGlyphs">Viral Packaging Protein</text>
<text class="lg" x="1542" y="4572" textLength="1307" lengthAdjust="spacingAndGlyphs">Viral Replication Protein</text>
<text class="lg" x="1542" y="4733" textLength="1461" lengthAdjust="spacingAndGlyphs">Auxiliary Metabolic Protein</text>
<text class="lg" x="1542" y="4892" textLength="1313" lengthAdjust="spacingAndGlyphs">CRISPR-Related Protein</text>
<text class="lg" x="1542" y="5051" textLength="1119" lengthAdjust="spacingAndGlyphs">Hypothetical Protein</text>
</g>

<g id="scalebar">
<path d="M851 5238V5283M851 5260H995M995 5238V5283" fill="none" stroke="#222" stroke-width="4"/>
<text class="sc" x="924" y="5342">2.5kb</text>
</g>
<g id="identity-scale">
<rect x="1066" y="5236" width="566" height="47" fill="url(#idgrad)" stroke="#444" stroke-width="3"/>
<text class="sc" x="1084" y="5342">0</text>
<text class="sc" x="1349" y="5342">Identity (%)</text>
<text class="sc" x="1589" y="5342">100</text>
</g>
</g>
</svg>
